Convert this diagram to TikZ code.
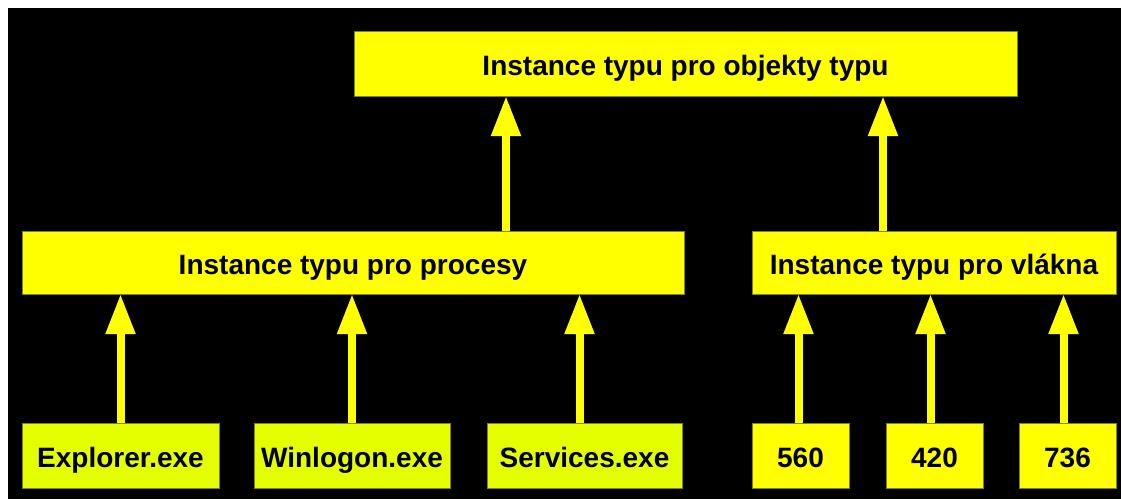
\documentclass[tikz,border=0pt]{standalone}
\usepackage{fontspec}
\setmainfont{Liberation Sans}
\usetikzlibrary{arrows.meta}
\definecolor{boxyellow}{RGB}{255,255,0}
\definecolor{leafyellow}{RGB}{228,255,0}
\definecolor{boxedge}{RGB}{130,130,20}
\definecolor{arrowyellow}{RGB}{255,255,0}
\tikzset{
  ybox/.style={draw=boxedge, line width=1pt, fill=boxyellow, rectangle,
    inner sep=0pt, outer sep=0pt, text=black, text height=24pt, text depth=0pt,
    font=\fontsize{28}{30}\selectfont\bfseries},
  leafbox/.style={ybox, fill=leafyellow},
  arr/.style={draw=arrowyellow, line width=8pt,
    -{Triangle[width=28pt,length=40pt]}, fill=arrowyellow}
}
\begin{document}
\begin{tikzpicture}[x=1pt,y=-1pt]
\fill[white] (0,0) rectangle (1121,499);
\fill[black] (8,8) rectangle (1121,499);
\useasboundingbox (0,0) rectangle (1121,499);

\node[ybox, minimum width=663pt, minimum height=65pt] (top) at (685.5,63.5) {Instance typu pro objekty typu};
\node[ybox, minimum width=662pt, minimum height=63pt] (proc) at (353,262.5) {Instance typu pro procesy};
\node[ybox, minimum width=364pt, minimum height=63pt] (vlak) at (934,262.5) {Instance typu pro vlákna};

\node[leafbox, minimum width=197pt, minimum height=65pt] (expl) at (120.5,455.5) {Explorer.exe};
\node[leafbox, minimum width=196pt, minimum height=65pt] (winl) at (352,455.5) {Winlogon.exe};
\node[leafbox, minimum width=195pt, minimum height=65pt] (serv) at (584.5,455.5) {Services.exe};

\node[ybox, minimum width=97pt, minimum height=65pt] (t560) at (800.5,455.5) {560};
\node[ybox, minimum width=97pt, minimum height=65pt] (t420) at (934.5,455.5) {420};
\node[ybox, minimum width=97pt, minimum height=65pt] (t736) at (1067.5,455.5) {736};

\coordinate (axl) at (506,0);
\coordinate (axr) at (883,0);

\draw[arr] (proc.north -| axl) -- (top.south -| axl);
\draw[arr] (vlak.north -| axr) -- (top.south -| axr);

\draw[arr] (expl.north) -- (expl.north |- proc.south);
\draw[arr] (winl.north) -- (winl.north |- proc.south);
\draw[arr] ([xshift=-5pt]serv.north) -- ([xshift=-5pt]serv.north |- proc.south);

\draw[arr] ([xshift=-2pt]t560.north) -- ([xshift=-2pt]t560.north |- vlak.south);
\draw[arr] ([xshift=-4pt]t420.north) -- ([xshift=-4pt]t420.north |- vlak.south);
\draw[arr] ([xshift=-4pt]t736.north) -- ([xshift=-4pt]t736.north |- vlak.south);
\end{tikzpicture}
\end{document}
